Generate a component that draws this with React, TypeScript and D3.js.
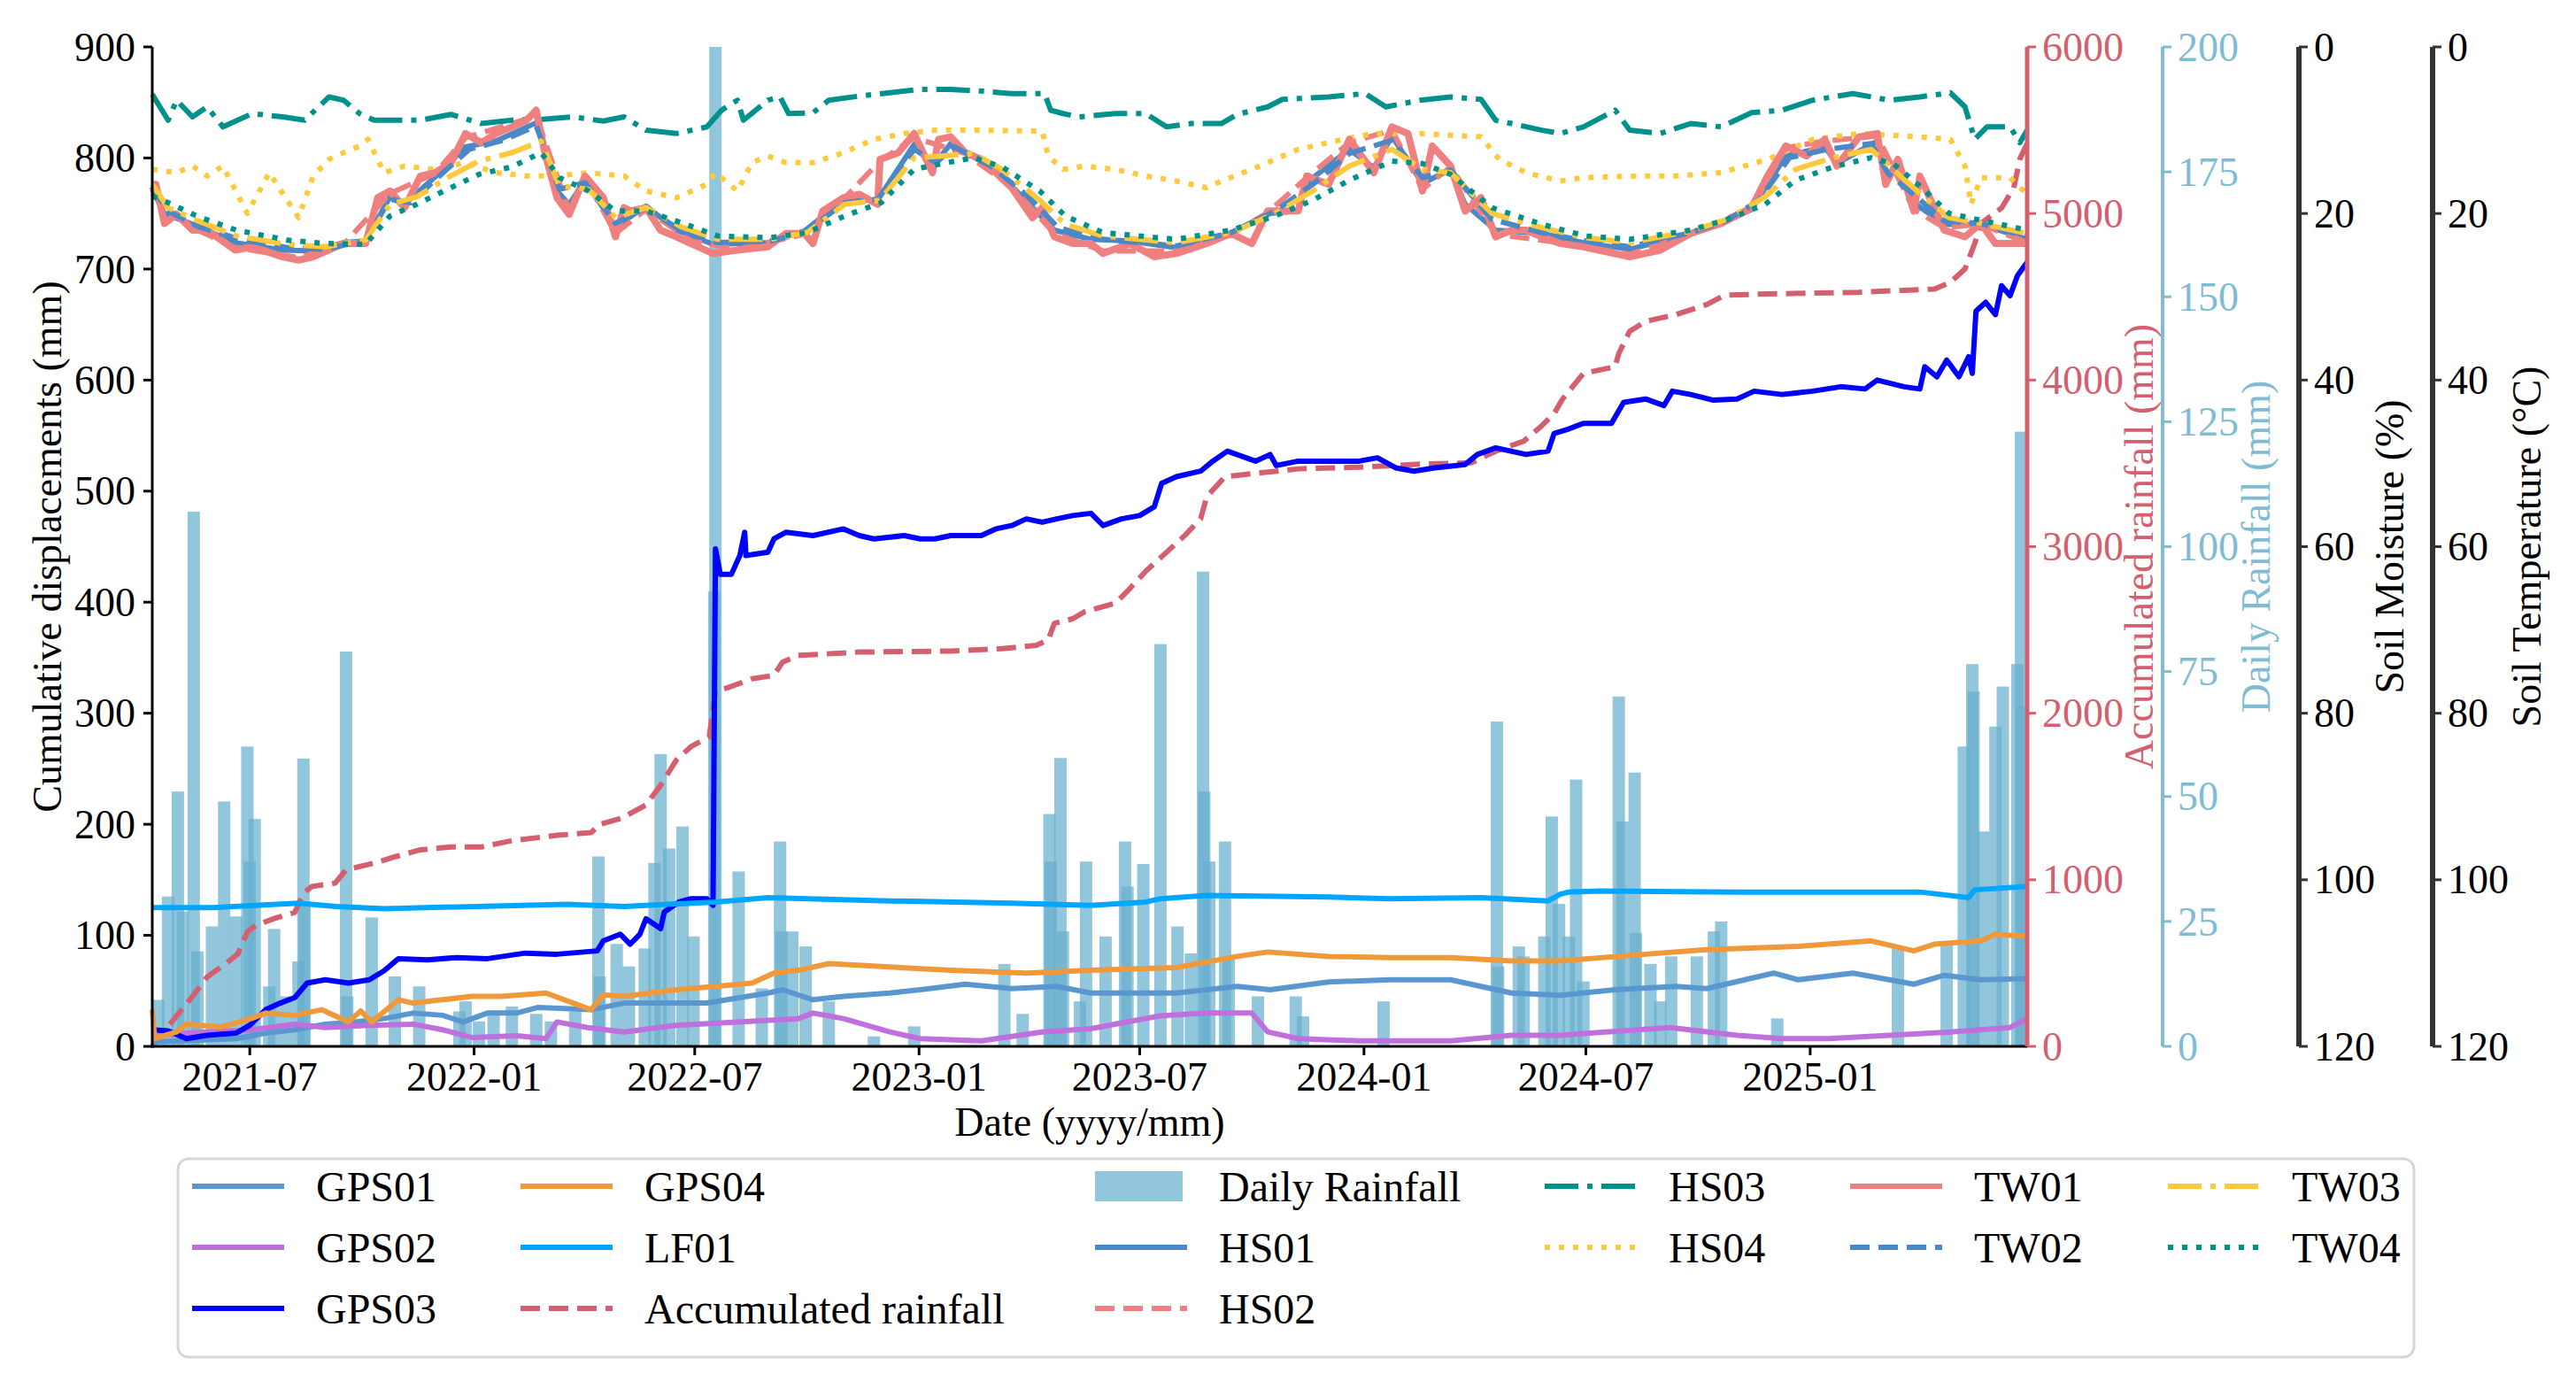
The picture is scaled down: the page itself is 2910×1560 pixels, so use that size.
import React from "react";
import * as d3 from "d3";

type P = [string, number];

// ---------- tick values ----------
const dispTicks = [0, 100, 200, 300, 400, 500, 600, 700, 800, 900];
const accumTicks = [0, 1000, 2000, 3000, 4000, 5000, 6000];
const rainTicks = [0, 25, 50, 75, 100, 125, 150, 175, 200];
const soilTicks = [0, 20, 40, 60, 80, 100, 120];
const dateTicks = ["2021-07-01", "2022-01-01", "2022-07-01", "2023-01-01", "2023-07-01", "2024-01-01", "2024-07-01", "2025-01-01"];
const dateRange = ["2021-04-12", "2025-06-28"];

// ---------- displacement series (mm) ----------
const gps01: P[] = [["2021-04-12",4],["2021-06-20",7],["2021-07-14",12],["2021-08-07",15],["2021-09-01",20],["2021-09-25",22],["2021-10-19",25],["2021-11-12",30],["2021-12-06",28],["2021-12-23",22],["2022-01-12",30],["2022-02-05",30],["2022-02-22",35],["2022-04-07",33],["2022-05-04",39],["2022-07-11",39],["2022-08-30",48],["2022-09-11",51],["2022-10-06",42],["2022-10-31",45],["2022-12-08",48],["2023-01-02",51],["2023-02-08",56],["2023-03-18",52],["2023-04-24",54],["2023-05-22",48],["2023-07-31",48],["2023-09-19",54],["2023-10-16",51],["2023-12-03",58],["2024-01-22",60],["2024-03-12",60],["2024-04-06",54],["2024-05-01",48],["2024-06-10",46],["2024-07-25",51],["2024-09-13",54],["2024-10-08",52],["2024-12-02",66],["2024-12-22",60],["2025-02-05",66],["2025-03-27",56],["2025-04-21",64],["2025-05-21",60],["2025-06-28",61]];
const gps02: P[] = [["2021-04-12",9],["2021-05-10",12],["2021-07-02",15],["2021-08-07",20],["2021-09-01",17],["2021-10-07",19],["2021-11-12",20],["2021-12-06",15],["2021-12-30",8],["2022-02-05",9.5],["2022-03-01",7],["2022-03-10",22],["2022-04-04",17],["2022-05-04",13],["2022-06-16",19],["2022-08-05",22],["2022-09-24",25],["2022-10-06",30],["2022-10-31",25],["2022-12-08",13],["2023-01-02",7],["2023-02-21",5],["2023-04-12",13],["2023-05-22",16],["2023-07-18",27.5],["2023-08-25",30],["2023-10-01",30],["2023-10-14",13],["2023-11-08",7],["2023-12-28",5],["2024-03-12",5],["2024-05-01",10],["2024-06-10",10],["2024-09-08",17],["2024-11-02",10],["2024-12-09",7],["2025-01-16",7],["2025-03-07",10],["2025-04-26",13],["2025-06-14",17],["2025-06-28",25]];
const gps03: P[] = [["2021-04-12",15],["2021-04-25",14],["2021-05-10",7],["2021-05-27",10],["2021-06-20",12],["2021-07-01",19],["2021-07-14",33],["2021-07-26",39],["2021-08-07",44],["2021-08-17",57],["2021-09-01",60],["2021-09-20",57],["2021-10-07",60],["2021-10-19",68],["2021-10-31",79],["2021-11-24",78],["2021-12-18",80],["2022-01-12",79],["2022-02-12",84],["2022-03-10",83],["2022-04-12",86],["2022-04-17",95],["2022-05-01",101],["2022-05-09",92],["2022-05-17",101],["2022-05-22",115],["2022-06-03",106],["2022-06-06",121],["2022-06-18",130],["2022-06-28",133],["2022-07-11",133],["2022-07-16",127],["2022-07-18",448],["2022-07-22",425],["2022-07-31",425],["2022-08-07",442],["2022-08-11",463],["2022-08-12",442],["2022-08-30",445],["2022-09-04",457],["2022-09-14",463],["2022-10-06",460],["2022-10-31",466],["2022-11-13",460],["2022-11-25",457],["2022-12-20",460],["2023-01-02",457],["2023-01-14",457],["2023-01-27",460],["2023-02-21",460],["2023-03-05",466],["2023-03-18",469],["2023-03-30",475],["2023-04-12",472],["2023-04-24",475],["2023-05-07",478],["2023-05-22",480],["2023-06-01",469],["2023-06-16",475],["2023-07-01",478],["2023-07-13",486],["2023-07-19",507],["2023-07-31",513],["2023-08-20",518],["2023-08-30",527],["2023-09-11",536],["2023-10-04",527],["2023-10-16",533],["2023-10-21",523],["2023-11-08",527],["2023-12-03",527],["2023-12-28",527],["2024-01-12",530],["2024-01-27",521],["2024-02-11",518],["2024-02-28",521],["2024-03-24",524],["2024-04-03",533],["2024-04-18",539],["2024-05-13",533],["2024-05-31",536],["2024-06-05",552],["2024-06-17",556],["2024-06-29",561],["2024-07-22",561],["2024-08-01",580],["2024-08-19",583],["2024-09-03",577],["2024-09-10",590],["2024-09-25",587],["2024-10-13",582],["2024-11-02",583],["2024-11-16",590],["2024-12-09",587],["2025-01-03",590],["2025-01-26",594],["2025-02-15",592],["2025-02-25",600],["2025-03-19",594],["2025-04-01",592],["2025-04-05",612],["2025-04-15",603],["2025-04-23",618],["2025-05-03",603],["2025-05-11",621],["2025-05-14",606],["2025-05-17",662],["2025-05-25",670],["2025-06-02",659],["2025-06-07",685],["2025-06-14",676],["2025-06-20",694],["2025-06-28",706]];
const gps04: P[] = [["2021-04-12",33],["2021-04-14",7],["2021-05-02",13],["2021-05-10",20],["2021-06-08",17.5],["2021-07-02",25],["2021-07-14",30],["2021-08-07",28],["2021-08-29",33],["2021-09-20",22],["2021-09-30",32],["2021-10-09",22],["2021-10-31",42],["2021-11-12",39],["2021-12-06",42],["2021-12-30",45],["2022-01-23",45],["2022-03-01",48],["2022-04-07",33],["2022-04-17",46.5],["2022-05-04",45],["2022-06-16",51],["2022-07-18",54],["2022-08-17",57],["2022-09-04",66],["2022-09-24",68.5],["2022-10-19",74.5],["2022-12-08",71.5],["2023-01-27",68.5],["2023-03-30",66],["2023-05-22",68.5],["2023-07-31",71],["2023-09-19",81],["2023-10-14",85],["2023-12-03",81],["2024-01-22",80],["2024-03-12",80],["2024-05-01",77],["2024-06-10",77],["2024-08-19",83],["2024-10-08",87],["2024-12-22",90],["2025-02-20",95],["2025-03-27",86],["2025-04-13",92],["2025-05-21",95],["2025-06-02",101],["2025-06-28",99]];
const lf01: P[] = [["2021-04-12",125],["2021-06-01",125],["2021-08-10",129],["2021-09-10",126],["2021-10-19",124],["2022-03-18",128],["2022-05-04",126],["2022-07-18",130],["2022-08-30",134],["2022-12-08",131],["2023-03-18",129],["2023-05-22",127],["2023-07-06",130],["2023-07-18",133],["2023-08-25",136],["2023-12-03",134.5],["2024-01-22",133],["2024-04-06",134],["2024-05-31",131],["2024-06-10",137],["2024-06-17",139],["2024-07-12",140],["2024-11-02",139],["2025-04-01",139],["2025-05-11",134],["2025-05-16",141],["2025-06-28",144]];

// ---------- rainfall (mm) ----------
const accumRain: P[] = [["2021-04-12",0],["2021-05-02",183],["2021-05-15",300],["2021-05-27",417],["2021-06-11",495],["2021-06-21",553],["2021-06-29",687],["2021-07-06",727],["2021-07-21",767],["2021-08-07",805],["2021-08-14",920],["2021-08-21",960],["2021-09-09",980],["2021-09-18",1060],["2021-10-11",1100],["2021-10-29",1140],["2021-11-18",1180],["2021-12-13",1197],["2022-01-07",1197],["2022-02-01",1235],["2022-03-10",1267],["2022-04-07",1283],["2022-04-14",1333],["2022-05-02",1370],["2022-05-22",1450],["2022-06-03",1567],["2022-06-16",1720],["2022-06-28",1800],["2022-07-13",1860],["2022-07-18",2133],["2022-07-28",2153],["2022-08-17",2207],["2022-09-04",2227],["2022-09-11",2307],["2022-09-24",2347],["2022-11-13",2367],["2023-01-27",2373],["2023-03-10",2387],["2023-04-07",2407],["2023-04-17",2440],["2023-04-22",2540],["2023-05-07",2567],["2023-05-17",2610],["2023-06-11",2660],["2023-06-21",2733],["2023-07-06",2853],["2023-07-21",2953],["2023-08-07",3067],["2023-08-20",3167],["2023-08-25",3300],["2023-09-09",3420],["2023-10-04",3440],["2023-11-08",3467],["2023-12-28",3477],["2024-02-16",3495],["2024-03-29",3503],["2024-04-18",3573],["2024-05-11",3633],["2024-05-26",3727],["2024-06-05",3800],["2024-06-12",3887],["2024-06-29",4040],["2024-07-25",4080],["2024-07-28",4160],["2024-08-06",4293],["2024-08-19",4353],["2024-09-13",4393],["2024-10-08",4453],["2024-10-23",4510],["2024-11-27",4517],["2025-02-10",4527],["2025-04-13",4547],["2025-04-26",4587],["2025-05-08",4667],["2025-05-16",4820],["2025-05-21",4940],["2025-06-07",5033],["2025-06-17",5153],["2025-06-22",5327],["2025-06-28",5420]];
const dailyRain: P[] = [["2021-04-17",9.3],["2021-04-25",30],["2021-05-03",51],["2021-05-07",27],["2021-05-16",107],["2021-05-19",19],["2021-05-31",24],["2021-06-10",49],["2021-06-20",26],["2021-06-29",60],["2021-07-01",37],["2021-07-05",45.5],["2021-07-17",12],["2021-07-21",23.5],["2021-07-31",10],["2021-08-10",17],["2021-08-14",57.6],["2021-08-15",29],["2021-09-18",79],["2021-09-19",10],["2021-10-09",25.8],["2021-10-28",14],["2021-11-17",12],["2021-12-20",7],["2021-12-25",9],["2022-01-05",5],["2022-01-17",6.5],["2022-02-01",8],["2022-02-21",6.5],["2022-03-05",5],["2022-03-25",7],["2022-04-13",38],["2022-04-14",14],["2022-04-28",20.5],["2022-05-08",16],["2022-05-21",19.6],["2022-05-29",36.7],["2022-06-03",58.5],["2022-06-10",39.6],["2022-06-21",44],["2022-06-30",22],["2022-07-17",91],["2022-07-18",200],["2022-08-06",35],["2022-08-25",11.6],["2022-09-09",41],["2022-09-10",23],["2022-09-19",23],["2022-09-30",20],["2022-10-19",9],["2022-11-25",2],["2022-12-28",4],["2023-03-12",16.5],["2023-03-27",6.5],["2023-04-18",46.5],["2023-04-19",37],["2023-04-27",57.7],["2023-04-29",23],["2023-05-13",9],["2023-05-18",37],["2023-06-03",22],["2023-06-19",41],["2023-06-21",32],["2023-07-04",36.5],["2023-07-18",80.5],["2023-08-01",24],["2023-08-12",18.6],["2023-08-22",95],["2023-08-23",51],["2023-08-27",37],["2023-09-09",41],["2023-09-12",18],["2023-10-06",10],["2023-11-06",10],["2023-11-12",6],["2024-01-17",9],["2024-04-19",65],["2024-04-20",16],["2024-05-07",20],["2024-05-11",18],["2024-05-28",22],["2024-06-03",46],["2024-06-09",28.5],["2024-06-17",22],["2024-06-23",53.4],["2024-06-29",13],["2024-07-28",70],["2024-07-31",45],["2024-08-10",54.8],["2024-08-11",22.7],["2024-08-23",16.5],["2024-08-31",9],["2024-09-09",18],["2024-09-30",18],["2024-10-14",23],["2024-10-20",25],["2024-12-05",5.6],["2025-03-14",19.8],["2025-04-23",21],["2025-05-07",60],["2025-05-14",76.5],["2025-05-15",71],["2025-05-23",43],["2025-06-02",64],["2025-06-08",72],["2025-06-20",76.5],["2025-06-23",123],["2025-06-24",68]];

// ---------- soil moisture (%) ----------
const hs01: P[] = [["2021-04-12",17.1],["2021-04-22",20.0],["2021-05-15",21.3],["2021-06-19",23.5],["2021-07-28",24.4],["2021-08-22",24.5],["2021-09-16",23.5],["2021-10-04",23.3],["2021-10-24",18.0],["2021-11-05",18.9],["2021-11-30",15.6],["2021-12-25",12.0],["2022-01-19",11.3],["2022-02-21",9.1],["2022-03-10",17.3],["2022-03-20",18.9],["2022-04-02",16.0],["2022-04-27",21.6],["2022-05-22",19.1],["2022-06-16",22.0],["2022-07-16",23.7],["2022-08-30",23.5],["2022-09-29",22.1],["2022-10-31",18.4],["2022-11-28",18.4],["2022-12-28",11.7],["2023-01-12",14.4],["2023-01-27",11.6],["2023-02-21",13.7],["2023-03-18",16.7],["2023-04-22",22.0],["2023-05-22",23.1],["2023-06-23",23.3],["2023-07-31",24.1],["2023-09-14",22.4],["2023-10-14",20.0],["2023-11-08",19.7],["2023-11-15",16.3],["2023-12-20",12.3],["2024-01-09",14.5],["2024-01-24",10.7],["2024-02-18",16.4],["2024-03-12",14.7],["2024-03-24",18.9],["2024-04-18",22.0],["2024-05-26",22.4],["2024-06-29",23.5],["2024-08-06",24.3],["2024-09-25",22.4],["2024-10-20",21.2],["2024-11-14",19.5],["2024-12-12",13.1],["2025-01-13",12.0],["2025-01-23",14.0],["2025-02-25",11.3],["2025-03-04",15.7],["2025-03-14",13.9],["2025-03-27",18.7],["2025-04-21",21.3],["2025-05-21",21.3],["2025-06-28",23.1]];
const hs02: P[] = [["2021-04-12",17.6],["2021-05-15",21.7],["2021-06-19",24.1],["2021-08-10",25.3],["2021-09-16",23.7],["2021-10-24",17.6],["2021-11-30",15.2],["2021-12-25",10.9],["2022-02-21",8.3],["2022-03-20",19.7],["2022-04-02",15.7],["2022-04-27",22.4],["2022-05-22",19.5],["2022-06-28",23.3],["2022-08-05",24.3],["2022-09-29",22.5],["2022-10-31",18.3],["2022-11-30",13.7],["2022-12-28",10.9],["2023-02-08",12.8],["2023-03-18",16.8],["2023-04-22",22.4],["2023-06-01",24.5],["2023-07-31",24.5],["2023-09-14",22.5],["2023-10-14",19.9],["2023-11-15",15.7],["2023-12-20",11.5],["2024-01-24",10.0],["2024-02-18",17.1],["2024-03-12",14.4],["2024-04-18",22.5],["2024-06-10",23.5],["2024-08-06",24.9],["2024-09-25",22.5],["2024-11-14",19.3],["2024-12-12",12.1],["2025-01-13",11.3],["2025-02-25",10.7],["2025-03-27",19.5],["2025-04-21",21.7],["2025-05-21",21.3],["2025-06-28",23.5]];
const hs03: P[] = [["2021-04-12",5.7],["2021-04-25",8.8],["2021-05-02",6.4],["2021-05-15",8.4],["2021-05-27",7.2],["2021-06-09",9.6],["2021-06-21",8.8],["2021-07-03",8.0],["2021-07-28",8.4],["2021-08-15",8.8],["2021-09-04",6.0],["2021-09-16",6.4],["2021-09-29",8.0],["2021-10-11",8.8],["2021-11-18",8.8],["2021-12-13",8.1],["2022-01-07",9.2],["2022-02-01",8.8],["2022-02-26",8.7],["2022-03-23",8.4],["2022-04-17",8.9],["2022-05-04",8.4],["2022-05-22",10.0],["2022-06-16",10.4],["2022-07-11",9.6],["2022-07-23",7.6],["2022-08-05",6.4],["2022-08-10",8.8],["2022-08-30",6.4],["2022-09-09",6.0],["2022-09-16",8.0],["2022-10-06",7.9],["2022-10-19",6.4],["2022-11-13",5.9],["2022-12-08",5.5],["2023-01-02",5.1],["2023-01-27",5.1],["2023-02-21",5.3],["2023-03-18",5.6],["2023-04-14",5.6],["2023-04-19",7.6],["2023-04-29",8.0],["2023-05-12",8.4],["2023-06-11",8.0],["2023-07-06",8.0],["2023-07-23",9.6],["2023-08-12",9.2],["2023-09-06",9.2],["2023-09-19",8.1],["2023-10-14",7.2],["2023-10-26",6.3],["2023-12-03",6.0],["2024-01-02",5.6],["2024-01-19",7.2],["2024-02-16",6.4],["2024-03-12",6.0],["2024-04-06",6.3],["2024-04-18",8.8],["2024-05-01",9.2],["2024-05-26",10.0],["2024-06-10",10.4],["2024-06-29",9.6],["2024-07-25",7.6],["2024-08-06",10.0],["2024-08-31",10.4],["2024-09-25",9.2],["2024-10-20",9.6],["2024-11-14",7.9],["2024-12-09",7.6],["2025-01-03",6.4],["2025-02-05",5.6],["2025-03-07",6.4],["2025-04-01",6.0],["2025-04-26",5.5],["2025-05-08",7.2],["2025-05-16",11.1],["2025-05-26",9.6],["2025-06-14",9.6],["2025-06-22",11.5],["2025-06-28",10.0]];
const hs04: P[] = [["2021-04-12",14.7],["2021-05-02",15.1],["2021-05-15",14.3],["2021-05-27",15.5],["2021-06-09",14.3],["2021-06-29",20.0],["2021-07-17",15.1],["2021-08-10",20.5],["2021-08-22",15.5],["2021-09-04",13.5],["2021-09-16",12.7],["2021-09-29",11.9],["2021-10-06",11.1],["2021-10-19",15.1],["2021-11-05",14.3],["2021-11-30",14.7],["2021-12-25",13.9],["2022-01-19",15.1],["2022-02-13",15.5],["2022-03-10",15.5],["2022-04-04",15.1],["2022-05-04",15.5],["2022-05-22",17.3],["2022-06-16",18.1],["2022-07-11",16.5],["2022-07-18",15.1],["2022-08-05",17.3],["2022-08-17",13.9],["2022-08-30",13.1],["2022-09-14",13.9],["2022-10-06",13.9],["2022-10-31",12.7],["2022-11-25",11.1],["2022-12-20",10.4],["2023-01-14",10.0],["2023-02-21",10.0],["2023-04-12",10.1],["2023-04-17",13.1],["2023-04-29",14.7],["2023-05-17",14.3],["2023-06-11",14.7],["2023-07-06",15.5],["2023-07-31",16.1],["2023-08-25",16.9],["2023-09-06",16.1],["2023-10-01",14.7],["2023-11-08",12.3],["2023-12-15",11.1],["2024-01-09",10.4],["2024-02-16",10.4],["2024-04-06",10.8],["2024-04-21",13.5],["2024-05-13",15.1],["2024-06-10",16.1],["2024-06-29",15.7],["2024-08-10",15.5],["2024-09-13",15.5],["2024-10-20",15.1],["2024-11-27",13.5],["2025-01-03",11.1],["2025-02-10",10.4],["2025-04-01",10.8],["2025-04-26",11.1],["2025-05-08",14.3],["2025-05-13",18.9],["2025-05-21",15.7],["2025-06-14",15.7],["2025-06-28",17.7]];

// ---------- soil temperature (°C) ----------
const tw01: P[] = [["2021-04-12",17.3],["2021-04-15",16.5],["2021-04-22",21.2],["2021-05-02",20.1],["2021-05-15",22.0],["2021-05-27",22.0],["2021-06-19",24.4],["2021-07-03",24.0],["2021-07-28",25.2],["2021-08-10",25.6],["2021-08-22",25.2],["2021-09-16",23.6],["2021-10-04",23.6],["2021-10-14",18.1],["2021-10-24",17.3],["2021-11-05",19.3],["2021-11-18",15.5],["2021-11-30",15.1],["2021-12-13",13.9],["2021-12-25",10.4],["2022-01-07",11.5],["2022-01-19",10.4],["2022-02-01",9.6],["2022-02-13",8.8],["2022-02-21",7.6],["2022-02-28",12.7],["2022-03-10",18.1],["2022-03-20",20.1],["2022-04-02",15.5],["2022-04-17",18.1],["2022-04-27",22.8],["2022-05-04",19.3],["2022-05-09",19.7],["2022-05-22",19.3],["2022-06-03",22.0],["2022-06-16",22.8],["2022-06-28",23.6],["2022-07-16",24.8],["2022-08-05",24.4],["2022-08-30",24.0],["2022-09-14",22.4],["2022-09-29",22.4],["2022-10-06",23.6],["2022-10-14",19.7],["2022-10-31",18.1],["2022-11-13",17.7],["2022-11-28",18.9],["2022-11-30",13.5],["2022-12-15",12.7],["2022-12-28",10.4],["2023-01-12",15.1],["2023-01-17",11.1],["2023-01-27",10.8],["2023-02-08",12.7],["2023-02-21",13.5],["2023-03-05",15.1],["2023-03-18",16.9],["2023-04-04",20.5],["2023-04-12",19.3],["2023-04-22",22.8],["2023-05-07",23.6],["2023-05-22",23.6],["2023-06-01",24.8],["2023-06-23",23.6],["2023-07-13",25.2],["2023-07-31",24.8],["2023-08-25",23.6],["2023-09-14",22.4],["2023-10-01",23.6],["2023-10-14",19.7],["2023-11-08",19.7],["2023-11-15",15.5],["2023-12-03",16.5],["2023-12-20",11.1],["2024-01-09",15.1],["2024-01-24",9.6],["2024-02-06",10.4],["2024-02-18",17.3],["2024-02-26",11.9],["2024-03-12",14.3],["2024-03-24",19.7],["2024-04-06",18.1],["2024-04-18",22.8],["2024-05-01",22.0],["2024-05-13",22.0],["2024-05-26",22.8],["2024-06-10",23.6],["2024-06-29",24.0],["2024-08-06",25.2],["2024-08-31",24.4],["2024-09-25",22.4],["2024-10-20",21.2],["2024-11-14",19.3],["2024-11-27",15.5],["2024-12-12",11.9],["2024-12-29",13.1],["2025-01-13",11.1],["2025-01-23",14.3],["2025-02-10",10.8],["2025-02-25",10.4],["2025-03-04",16.5],["2025-03-14",13.5],["2025-03-27",19.7],["2025-04-01",15.5],["2025-04-21",22.0],["2025-05-08",22.8],["2025-05-21",21.2],["2025-06-02",23.6],["2025-06-28",23.6]];
const tw02: P[] = [["2021-04-12",16.8],["2021-04-25",19.7],["2021-05-20",21.6],["2021-06-25",23.2],["2021-08-01",24.1],["2021-09-01",24.3],["2021-10-04",23.2],["2021-10-24",18.3],["2021-11-10",18.7],["2021-12-05",15.3],["2021-12-28",12.3],["2022-01-25",11.2],["2022-02-21",9.5],["2022-03-12",17.1],["2022-04-02",16.3],["2022-04-27",21.2],["2022-05-22",19.3],["2022-06-20",22.1],["2022-07-20",23.5],["2022-09-01",23.3],["2022-09-29",22.3],["2022-11-01",18.7],["2022-11-28",18.3],["2022-12-28",12.3],["2023-01-15",13.9],["2023-01-30",12.0],["2023-03-01",14.3],["2023-04-01",18.0],["2023-04-25",21.7],["2023-06-01",23.1],["2023-07-31",23.9],["2023-09-14",22.3],["2023-10-20",19.7],["2023-11-20",16.5],["2023-12-20",12.8],["2024-01-24",11.2],["2024-02-18",15.7],["2024-03-12",14.8],["2024-04-15",20.7],["2024-05-26",22.3],["2024-07-01",23.3],["2024-08-06",24.0],["2024-09-25",22.3],["2024-10-25",20.8],["2024-11-20",18.4],["2024-12-15",13.3],["2025-01-15",12.3],["2025-02-20",11.6],["2025-03-06",15.2],["2025-03-30",18.1],["2025-04-21",20.9],["2025-05-21",21.2],["2025-06-28",22.8]];
const tw03: P[] = [["2021-04-12",16.5],["2021-04-25",19.3],["2021-05-20",20.9],["2021-06-20",22.7],["2021-08-01",23.7],["2021-09-01",24.0],["2021-10-04",23.2],["2021-10-24",18.9],["2021-11-15",18.0],["2021-12-10",15.7],["2022-01-05",13.7],["2022-02-01",12.7],["2022-02-25",11.3],["2022-03-12",16.7],["2022-04-05",17.1],["2022-04-27",20.5],["2022-05-22",19.3],["2022-06-20",21.6],["2022-07-20",23.1],["2022-09-01",23.1],["2022-10-01",22.3],["2022-11-01",18.9],["2022-11-30",18.4],["2022-12-28",13.3],["2023-01-20",13.1],["2023-02-15",12.8],["2023-03-10",14.7],["2023-04-10",18.4],["2023-05-01",21.3],["2023-06-01",22.7],["2023-07-31",23.5],["2023-09-14",22.3],["2023-10-20",20.0],["2023-11-20",17.3],["2023-12-20",14.3],["2024-01-24",12.3],["2024-02-18",14.7],["2024-03-12",15.1],["2024-04-15",20.0],["2024-05-26",21.7],["2024-07-01",22.9],["2024-08-06",23.5],["2024-09-25",22.1],["2024-10-25",20.7],["2024-11-25",18.0],["2024-12-20",14.7],["2025-01-20",13.3],["2025-02-20",12.3],["2025-03-10",14.7],["2025-04-01",17.6],["2025-04-25",20.5],["2025-05-21",21.2],["2025-06-28",22.4]];
const tw04: P[] = [["2021-04-12",17.9],["2021-04-25",18.7],["2021-05-20",20.4],["2021-06-20",22.0],["2021-08-01",23.2],["2021-09-01",23.6],["2021-10-04",23.7],["2021-10-24",20.3],["2021-11-15",18.9],["2021-12-10",17.1],["2022-01-05",15.3],["2022-02-01",14.4],["2022-02-25",12.7],["2022-03-12",15.7],["2022-04-05",17.3],["2022-04-27",19.7],["2022-05-22",19.7],["2022-06-20",21.1],["2022-07-20",22.7],["2022-09-01",22.9],["2022-10-01",22.3],["2022-11-01",20.3],["2022-12-01",18.7],["2022-12-28",14.7],["2023-01-20",14.0],["2023-02-15",13.3],["2023-03-10",14.4],["2023-04-10",17.3],["2023-05-01",20.3],["2023-06-01",22.3],["2023-07-31",23.1],["2023-09-14",22.0],["2023-10-20",20.3],["2023-11-20",18.4],["2023-12-20",16.0],["2024-01-24",13.7],["2024-02-18",14.0],["2024-03-12",15.3],["2024-04-15",19.3],["2024-05-26",21.3],["2024-07-01",22.7],["2024-08-06",23.1],["2024-09-25",22.0],["2024-10-25",20.7],["2024-11-25",18.9],["2024-12-20",16.0],["2025-01-20",14.4],["2025-02-20",13.3],["2025-03-10",14.0],["2025-04-01",16.7],["2025-04-25",20.0],["2025-05-21",20.8],["2025-06-28",22.0]];

// ---------- layout & style ----------
const W = 2910;
const H = 1560;
const PL = 172, PR = 2290, PT = 53, PB = 1182;
const AX_RAIN = 2443, AX_MOIST = 2597, AX_TEMP = 2748;
const FONT = "'Liberation Serif', 'Times New Roman', Times, serif";
const FS = 46;
const LFS = 48;
const LW = 6;
const DASH = "22,10";
const DASHDOT = "38,10,6,10";
const DOT = "6,10";

const C = {
  gps01: "#5a97d0",
  gps02: "#bf70dd",
  gps03: "#0000ff",
  gps04: "#f0993a",
  lf01: "#00a6ff",
  accum: "#d45f6e",
  rain: "#68b0ce",
  rainAxis: "#7fbcd4",
  hs01: "#4a88c7",
  hs02: "#f08080",
  hs03: "#00918c",
  hs04: "#ffc93c",
  tw01: "#f08080",
  tw02: "#4a88c7",
  tw03: "#ffc93c",
  tw04: "#00918c",
  soil: "#333333",
};

const parse = d3.timeParse("%Y-%m-%d");
const fmt = d3.timeFormat("%Y-%m");

export default function App() {
  const x = d3.scaleTime().domain([parse(dateRange[0])!, parse(dateRange[1])!]).range([PL, PR]);
  const yD = d3.scaleLinear().domain([0, 900]).range([PB, PT]);
  const yA = d3.scaleLinear().domain([0, 6000]).range([PB, PT]);
  const yR = d3.scaleLinear().domain([0, 200]).range([PB, PT]);
  const yM = d3.scaleLinear().domain([0, 120]).range([PT, PB]);
  const yT = d3.scaleLinear().domain([0, 120]).range([PT, PB]);

  const mk = (y: d3.ScaleLinear<number, number>) =>
    d3.line<P>().x((d) => x(parse(d[0])!)).y((d) => y(d[1]));

  const series = [
    { id: "accum", data: accumRain, y: yA, color: C.accum, dash: DASH, w: LW },
    { id: "gps01", data: gps01, y: yD, color: C.gps01, dash: "", w: LW },
    { id: "gps02", data: gps02, y: yD, color: C.gps02, dash: "", w: LW },
    { id: "gps03", data: gps03, y: yD, color: C.gps03, dash: "", w: LW },
    { id: "gps04", data: gps04, y: yD, color: C.gps04, dash: "", w: LW },
    { id: "lf01", data: lf01, y: yD, color: C.lf01, dash: "", w: LW },
    { id: "hs01", data: hs01, y: yM, color: C.hs01, dash: "", w: LW },
    { id: "hs02", data: hs02, y: yM, color: C.hs02, dash: DASH, w: LW },
    { id: "hs03", data: hs03, y: yM, color: C.hs03, dash: DASHDOT, w: LW },
    { id: "hs04", data: hs04, y: yM, color: C.hs04, dash: DOT, w: LW },
    { id: "tw01", data: tw01, y: yT, color: C.tw01, dash: "", w: 8 },
    { id: "tw02", data: tw02, y: yT, color: C.tw02, dash: DASH, w: LW },
    { id: "tw03", data: tw03, y: yT, color: C.tw03, dash: DASHDOT, w: LW },
    { id: "tw04", data: tw04, y: yT, color: C.tw04, dash: DOT, w: LW },
  ];

  const barW = 14;

  // legend columns (column-major like matplotlib ncol=6)
  type LItem = { label: string; color: string; dash?: string; patch?: boolean };
  const legendCols: { x: number; items: LItem[] }[] = [
    { x: 217, items: [
      { label: "GPS01", color: C.gps01 },
      { label: "GPS02", color: C.gps02 },
      { label: "GPS03", color: C.gps03 },
    ] },
    { x: 588, items: [
      { label: "GPS04", color: C.gps04 },
      { label: "LF01", color: C.lf01 },
      { label: "Accumulated rainfall", color: C.accum, dash: DASH },
    ] },
    { x: 1237, items: [
      { label: "Daily Rainfall", color: C.rain, patch: true },
      { label: "HS01", color: C.hs01 },
      { label: "HS02", color: C.hs02, dash: DASH },
    ] },
    { x: 1745, items: [
      { label: "HS03", color: C.hs03, dash: DASHDOT },
      { label: "HS04", color: C.hs04, dash: DOT },
    ] },
    { x: 2090, items: [
      { label: "TW01", color: C.tw01 },
      { label: "TW02", color: C.tw02, dash: DASH },
    ] },
    { x: 2449, items: [
      { label: "TW03", color: C.tw03, dash: DASHDOT },
      { label: "TW04", color: C.tw04, dash: DOT },
    ] },
  ];
  const rowY = [1340, 1409, 1478];

  const rightAxis = (
    ax: number,
    scale: d3.ScaleLinear<number, number>,
    ticks: number[],
    color: string,
    textColor: string,
    spineW: number,
    label: string,
    labelX: number,
  ) => (
    <g>
      <line x1={ax} x2={ax} y1={PT} y2={PB} stroke={color} strokeWidth={spineW} />
      {ticks.map((t) => (
        <g key={t}>
          <line x1={ax} x2={ax + 10} y1={scale(t)} y2={scale(t)} stroke={color} strokeWidth={3} />
          <text x={ax + 17} y={scale(t)} dy="0.34em" fontSize={FS} fill={textColor} textAnchor="start">
            {t}
          </text>
        </g>
      ))}
      <text
        transform={`translate(${labelX},${(PT + PB) / 2}) rotate(-90)`}
        fontSize={FS}
        fill={textColor}
        textAnchor="middle"
      >
        {label}
      </text>
    </g>
  );

  return (
    <svg
      width={W}
      height={H}
      viewBox={`0 0 ${W} ${H}`}
      style={{ position: "absolute", left: 0, top: 0, background: "#fff" }}
      fontFamily={FONT}
    >
      <rect x={0} y={0} width={W} height={H} fill="#fff" />

      {/* daily rainfall bars */}
      <g>
        {dailyRain.map((d, i) => (
          <rect
            key={i}
            x={x(parse(d[0])!) - barW / 2}
            y={yR(d[1])}
            width={barW}
            height={yR(0) - yR(d[1])}
            fill={C.rain}
            fillOpacity={0.72}
          />
        ))}
      </g>

      {/* lines */}
      <g fill="none" strokeLinejoin="round">
        {series.map((s) => (
          <path
            key={s.id}
            d={mk(s.y)(s.data) || ""}
            stroke={s.color}
            strokeWidth={s.w}
            strokeDasharray={s.dash || undefined}
          />
        ))}
      </g>

      {/* left axis */}
      <line x1={PL} x2={PL} y1={PT} y2={PB + 1.5} stroke="#000" strokeWidth={3} />
      {dispTicks.map((t) => (
        <g key={t}>
          <line x1={PL - 10} x2={PL} y1={yD(t)} y2={yD(t)} stroke="#000" strokeWidth={3} />
          <text x={PL - 19} y={yD(t)} dy="0.34em" fontSize={FS} textAnchor="end" fill="#000">
            {t}
          </text>
        </g>
      ))}
      <text transform={`translate(69,${(PT + PB) / 2}) rotate(-90)`} fontSize={FS} textAnchor="middle" fill="#000">
        Cumulative displacements (mm)
      </text>

      {/* bottom axis */}
      <line x1={PL - 1.5} x2={PR} y1={PB} y2={PB} stroke="#000" strokeWidth={3} />
      {dateTicks.map((t) => {
        const xx = x(parse(t)!);
        return (
          <g key={t}>
            <line x1={xx} x2={xx} y1={PB} y2={PB + 10} stroke="#000" strokeWidth={3} />
            <text x={xx} y={1232} fontSize={FS} textAnchor="middle" fill="#000">
              {fmt(parse(t)!)}
            </text>
          </g>
        );
      })}
      <text x={(PL + PR) / 2} y={1283} fontSize={FS} textAnchor="middle" fill="#000">
        Date (yyyy/mm)
      </text>

      {/* right axes */}
      {rightAxis(PR, yA, accumTicks, C.accum, C.accum, 5, "Accumulated rainfall (mm)", 2432)}
      {rightAxis(AX_RAIN, yR, rainTicks, C.rainAxis, C.rainAxis, 4, "Daily Rainfall (mm)", 2564)}
      {rightAxis(AX_MOIST, yM, soilTicks, C.soil, "#000", 6, "Soil Moisture (%)", 2715)}
      {rightAxis(AX_TEMP, yT, soilTicks, C.soil, "#000", 6, "Soil Temperature (°C)", 2870)}

      {/* legend */}
      <rect x={201} y={1309} width={2526} height={224} rx={12} ry={12} fill="#fff" stroke="#d6d6d6" strokeWidth={3} />
      {legendCols.map((col, ci) => (
        <g key={ci}>
          {col.items.map((it, ri) => {
            const yy = rowY[ri];
            return (
              <g key={it.label}>
                {it.patch ? (
                  <rect x={col.x} y={yy - 17} width={99} height={34} fill={it.color} fillOpacity={0.72} />
                ) : (
                  <line
                    x1={col.x}
                    x2={col.x + 104}
                    y1={yy}
                    y2={yy}
                    stroke={it.color}
                    strokeWidth={LW}
                    strokeDasharray={it.dash || undefined}
                  />
                )}
                <text x={col.x + 140} y={yy} dy="0.35em" fontSize={LFS} fill="#000">
                  {it.label}
                </text>
              </g>
            );
          })}
        </g>
      ))}
    </svg>
  );
}
